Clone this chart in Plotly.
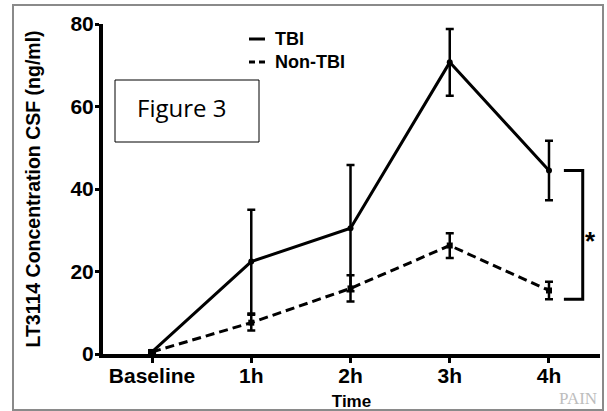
import plotly.graph_objects as go

# ---- data ----
categories = ["Baseline", "1h", "2h", "3h", "4h"]
tbi = [0.5, 22.4, 30.5, 70.7, 44.5]
tbi_err = [0.3, 12.6, 15.3, 8.1, 7.2]
non_tbi = [0.5, 7.6, 15.9, 26.3, 15.4]
non_tbi_err = [0.4, 1.9, 3.2, 3.0, 2.1]
y_ticks = [0, 20, 40, 60, 80]

W, H = 607, 411
L, R, T, B = 103, 7, 24, 57
PW, PH = W - L - R, H - T - B

def px(x):
    return (x - L) / PW

def py(y):
    return (H - B - y) / PH

xs = list(range(len(categories)))
FONT = "Liberation Sans, Arial, sans-serif"

fig = go.Figure()
fig.add_trace(go.Scatter(
    x=xs, y=non_tbi, mode="lines+markers", name="Non-TBI", showlegend=False,
    line=dict(color="black", width=3, dash="9px,5px"),
    marker=dict(symbol="square", size=6, color="black"),
    error_y=dict(type="data", array=non_tbi_err, color="black", thickness=2.5, width=4),
))
fig.add_trace(go.Scatter(
    x=xs, y=tbi, mode="lines+markers", name="TBI", showlegend=False,
    line=dict(color="black", width=3),
    marker=dict(symbol="circle", size=6, color="black"),
    error_y=dict(type="data", array=tbi_err, color="black", thickness=2.5, width=4),
))

shapes = []
# outer grey frame
shapes.append(dict(type="rect", xref="paper", yref="paper",
                   x0=px(13), x1=px(603), y0=py(410), y1=py(5),
                   line=dict(color="#8a8a8a", width=2)))
# Figure 3 box
shapes.append(dict(type="rect", xref="paper", yref="paper",
                   x0=px(115), x1=px(259), y0=py(142), y1=py(80),
                   line=dict(color="black", width=1), fillcolor="white"))
# legend samples
shapes.append(dict(type="line", xref="paper", yref="paper",
                   x0=px(249), x1=px(265), y0=py(39), y1=py(39),
                   line=dict(color="black", width=3)))
shapes.append(dict(type="line", xref="paper", yref="paper",
                   x0=px(249), x1=px(255), y0=py(62), y1=py(62),
                   line=dict(color="black", width=3)))
shapes.append(dict(type="line", xref="paper", yref="paper",
                   x0=px(259), x1=px(265), y0=py(62), y1=py(62),
                   line=dict(color="black", width=3)))
# significance bracket
bx0, bx1 = 4.15, 4.34
b_top = tbi[4]
b_bot = non_tbi[4] - non_tbi_err[4]
shapes.append(dict(type="path", xref="x", yref="y",
                   path=f"M {bx0},{b_top} L {bx1},{b_top} L {bx1},{b_bot} L {bx0},{b_bot}",
                   line=dict(color="black", width=3)))

annotations = [
    dict(xref="paper", yref="paper", x=px(181), y=py(108), text="Figure 3",
         showarrow=False, font=dict(family="Open Sans, sans-serif", size=24, color="black"),
         xanchor="center", yanchor="middle"),
    dict(xref="paper", yref="paper", x=px(273), y=py(39), text="<b>TBI</b>",
         showarrow=False, font=dict(family=FONT, size=18, color="black"),
         xanchor="left", yanchor="middle"),
    dict(xref="paper", yref="paper", x=px(273), y=py(62), text="<b>Non-TBI</b>",
         showarrow=False, font=dict(family=FONT, size=18, color="black"),
         xanchor="left", yanchor="middle"),
    dict(xref="paper", yref="paper", x=px(590), y=py(241), text="<b>*</b>",
         showarrow=False, font=dict(family=FONT, size=26, color="black"),
         xanchor="center", yanchor="middle"),
    dict(xref="paper", yref="paper", x=px(599), y=py(398), text="PAIN",
         showarrow=False, font=dict(family="Liberation Serif, serif", size=17, color="#bdbdbd"),
         xanchor="right", yanchor="middle"),
]

fig.update_layout(
    width=W, height=H,
    margin=dict(l=L, r=R, t=T, b=B, autoexpand=False),
    paper_bgcolor="white", plot_bgcolor="white",
    showlegend=False,
    shapes=shapes, annotations=annotations,
    font=dict(family=FONT, color="black"),
    xaxis=dict(
        range=[-0.494, 4.514], tickmode="array", tickvals=xs,
        ticktext=[f"<b>{c}</b>" for c in categories],
        tickfont=dict(size=21, family=FONT, color="black"),
        showline=True, linecolor="black", linewidth=4,
        ticks="outside", ticklen=5, tickwidth=3, tickcolor="black",
        ticklabelstandoff=-5, automargin=False,
        showgrid=False, zeroline=False,
        title=dict(text="<b>Time</b>", font=dict(size=17, family=FONT), standoff=10),
    ),
    yaxis=dict(
        range=[0, 80], tickmode="array", tickvals=y_ticks,
        ticktext=[f"<b>{v}</b>" for v in y_ticks],
        tickfont=dict(size=21, family=FONT, color="black"),
        showline=True, linecolor="black", linewidth=4,
        ticks="outside", ticklen=4, tickwidth=3, tickcolor="black",
        ticklabelstandoff=-3, automargin=False,
        showgrid=False, zeroline=False,
        title=dict(text="<b>LT3114 Concentration CSF (ng/ml)</b>",
                   font=dict(size=19.5, family=FONT), standoff=26),
    ),
)

fig.write_html("out.html", config={"displayModeBar": False},
               post_script="document.body.style.margin='0px';document.body.style.padding='0px';")
